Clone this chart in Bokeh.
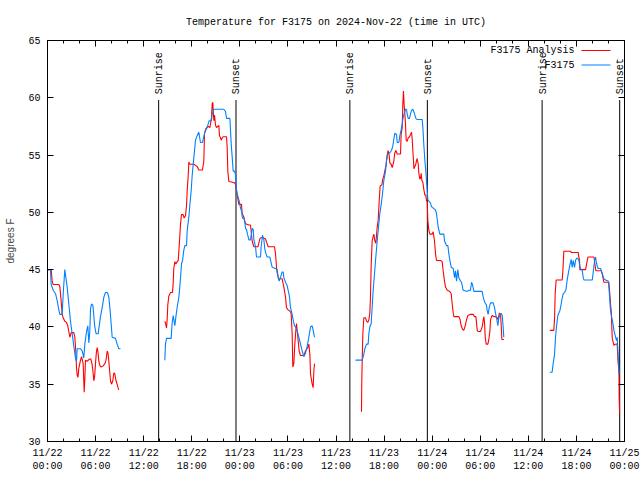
import math
from bokeh.plotting import figure
from bokeh.models import (LinearAxis, FixedTicker, Range1d, Label, Arrow,
                          CustomJSTickFormatter)
from bokeh.core.properties import value
from bokeh.embed import file_html
from bokeh.resources import INLINE

TITLE = "Temperature for F3175 on 2024-Nov-22 (time in UTC)"
Y_LABEL = "degrees F"

# x = hours since 2024-11-22 00:00 UTC
tick_hours = [0, 6, 12, 18, 24, 30, 36, 42, 48, 54, 60, 66, 72]
tick_labels = ["11/22\n00:00", "11/22\n06:00", "11/22\n12:00", "11/22\n18:00",
               "11/23\n00:00", "11/23\n06:00", "11/23\n12:00", "11/23\n18:00",
               "11/24\n00:00", "11/24\n06:00", "11/24\n12:00", "11/24\n18:00",
               "11/25\n00:00"]
y_ticks = [30, 35, 40, 45, 50, 55, 60, 65]

sunrise_hours = [13.87, 37.73, 61.72]
sunset_hours = [23.52, 47.40, 71.40]

# ---- F3175 observations ----
obs1_h = [0, 0.37, 0.46, 0.71, 1.0, 1.21, 1.41, 1.54, 1.83, 1.96, 2.16, 2.45, 2.66, 2.87, 3.08,
          3.29, 3.49, 3.62, 3.7, 4.12, 4.33, 4.53, 4.66, 4.87, 5.03, 5.16, 5.28, 5.37, 5.49,
          5.66, 5.78, 5.9, 6.07, 6.32, 6.61, 6.85, 7.03, 7.24, 7.49, 7.65, 7.78, 7.92, 8.07,
          8.49, 8.69, 8.9, 9.11]
obs1_t = [45, 45, 43.7, 43.2, 42.9, 42.3, 41.5, 41.1, 41.1, 42.9, 45, 43.5, 42, 40.5, 39.4,
          38.3, 37.3, 37.0, 38.1, 38.1, 37.9, 37.3, 38.5, 39.6, 40.1, 38.6, 39.6, 41.6, 42.0,
          41.9, 41.0, 40.0, 39.4, 39.4, 40.9, 41.8, 42.6, 43.0, 43.0, 42.6, 41.7, 40.5, 39.1,
          39.0, 38.5, 38.1, 38.1]

obs2_h = [14.64, 14.72, 14.85, 15.43, 15.55, 15.68, 15.89, 16.02, 16.18, 16.39, 16.51, 16.6,
          16.72, 16.85, 17.01, 17.14, 17.35, 17.43, 17.64, 17.76, 17.93, 18.05, 18.26, 18.47,
          18.68, 18.88, 18.97, 19.09, 19.34, 19.51, 19.63, 19.84, 20.05, 20.17, 20.46, 20.55,
          20.76, 22.0, 22.21, 22.34, 22.76, 22.84, 22.92, 23.05, 23.17, 23.33, 23.46, 23.58,
          23.67, 23.79, 23.92, 24.08, 24.21, 24.33, 24.5, 24.63, 24.71, 24.83, 24.96, 25.13,
          25.33, 25.54, 25.67, 25.75, 25.96, 26.08, 26.58, 26.66, 26.83, 27.0, 27.12, 27.25,
          27.41, 27.75, 27.91, 28.04, 28.45, 28.66, 28.78, 28.91, 29.07, 29.28, 29.41, 29.49,
          29.7, 29.91, 30.03, 30.2, 30.32, 30.53, 30.66, 30.82, 30.95, 31.15, 31.36, 31.57,
          31.78, 31.99, 32.19, 32.4, 32.61, 32.82, 33.03, 33.15, 33.32]
obs2_t = [37.1, 38.5, 39.0, 39.0, 40.3, 41.0, 40.1, 40.9, 41.7, 42.6, 43.5, 44.3,
          45.5, 45.8, 46.7, 47.1, 47.1, 48.4, 49.6, 50.6, 51.9, 53.2, 54.8, 56.3,
          56.7, 57.0, 56.6, 56.1, 56.1, 56.6, 57.0, 57.3, 57.7, 58.0, 58.0, 58.6,
          59.0, 59.0, 58.8, 58.2, 58.2, 57.1, 56.0, 54.8, 53.6, 53.6, 53.3, 52.0,
          51.6, 51.3, 51.0, 50.4, 50.1, 49.5, 49.5, 49.1, 48.6, 48.5, 48.1, 47.6,
          47.6, 48.6, 48.5, 47.6, 47.0, 46.1, 46.1, 47.0, 48.0, 47.6, 46.8, 46.4,
          46.1, 46.1, 45.6, 45.2, 45.1, 45.0, 44.3, 44.0, 44.3, 44.8, 44.8, 44.3,
          43.9, 43.6, 43.2, 42.6, 41.7, 41.1, 40.6, 40.1, 40.0, 39.7, 39.1, 38.5,
          37.9, 37.4, 37.7, 38.3, 39.1, 40.0, 40.1, 39.7, 39.1]

obs3_h = [38.43, 39.27, 39.47, 39.6, 39.81, 40.01, 40.1, 40.22, 40.39, 40.51, 40.64, 40.8,
          40.97, 41.14, 41.3, 41.47, 41.64, 41.8, 41.97, 42.18, 42.3, 42.47, 42.72, 42.93,
          43.09, 43.22, 43.34, 43.55, 43.64, 43.84, 43.97, 44.13, 44.26, 44.38, 44.55, 44.67,
          44.8, 44.88, 45.01, 45.17, 45.3, 45.42, 45.59, 45.8, 45.96, 46.13, 46.76, 46.84,
          46.96, 47.09, 47.21, 47.29, 47.38, 47.46, 47.79, 47.92, 48.42, 48.54, 48.63, 48.75,
          48.96, 49.46, 49.54, 49.79, 49.96, 50.08, 50.21, 50.38, 50.63, 50.79, 50.91, 51.04,
          51.2, 51.33, 51.54, 51.66, 51.87, 52.37, 52.58, 52.78, 52.91, 53.03, 53.2, 54.24,
          54.37, 54.53, 54.78, 54.87, 54.99, 55.12, 55.28, 55.61, 55.78, 55.9, 56.03, 56.2,
          56.32, 56.44, 56.61, 56.74, 56.86, 56.94]
obs3_t = [37.1, 37.1, 37.6, 38.1, 38.5, 38.5, 39.4, 40.0, 40.3, 41.7, 43.2, 44.6,
          46.1, 47.5, 48.7, 49.9, 50.7, 51.6, 52.8, 53.6, 54.5, 55.1, 55.2, 55.4,
          55.8, 56.4, 56.9, 56.8, 56.1, 56.1, 56.7, 57.2, 57.7, 58.3, 58.7, 59.0,
          59.0, 58.6, 58.2, 58.2, 58.6, 58.9, 59.0, 58.6, 58.2, 58.1, 58.1, 57.4,
          55.9, 54.5, 53.6, 52.8, 51.9, 51.1, 50.8, 50.5, 50.2, 49.9, 49.4, 48.7,
          48.1, 48.1, 47.5, 47.1, 47.1, 46.4, 45.8, 45.2, 45.1, 44.3, 44.9, 44.0,
          45.0, 44.3, 44.0, 43.9, 43.2, 43.1, 43.2, 43.2, 43.9, 43.7, 43.1, 43.1,
          42.6, 42.2, 41.9, 41.4, 41.1, 41.7, 42.1, 42.1, 41.7, 41.2, 40.8, 40.1,
          40.8, 41.0, 41.2, 41.0, 40.0, 39.1]

obs4_h = [62.68, 62.97, 63.1, 63.27, 63.39, 63.51, 63.68, 63.93, 64.1, 64.22, 64.35, 64.51,
          64.68, 64.85, 65.02, 65.18, 65.35, 65.47, 65.6, 65.77, 65.89, 66.02, 66.18, 66.31,
          66.43, 66.52, 66.73, 66.85, 66.94, 67.98, 68.1, 68.27, 68.39, 68.47, 68.6, 68.72,
          69.01, 69.22, 69.43, 69.64, 69.97, 70.05, 70.14, 70.26, 70.39, 70.56, 70.68, 70.89,
          71.01, 71.09, 71.22, 71.31]
obs4_t = [36.05, 36.05, 36.8, 37.6, 39.1, 40.0, 41.0, 41.4, 42.0, 42.5, 42.9, 43.0,
          43.2, 44.1, 44.8, 45.4, 45.9, 45.2, 45.8, 45.2, 45.8, 46.0, 46.0, 45.8,
          45.3, 45.1, 44.9, 44.3, 44.1, 44.1, 44.8, 45.8, 46.1, 45.7, 45.3, 45.1,
          45.1, 44.7, 44.2, 44.1, 44.0, 43.5, 42.6, 41.4, 40.9, 40.3, 39.7, 39.1,
          38.8, 39.1, 37.4, 35.9]

# ---- F3175 Analysis ----
ana1_h = [0, 0.46, 0.58, 0.71, 1.41, 1.54, 1.7, 1.83, 1.96, 2.16, 2.37, 2.53, 2.66, 2.79,
          2.95, 3.29, 3.41, 3.53, 3.62, 3.7, 3.8, 3.91, 4.12, 4.25, 4.45, 4.58, 4.66, 4.74,
          4.95, 5.24, 5.4, 5.55, 5.66, 5.78, 5.87, 5.99, 6.1, 6.2, 6.3, 6.41, 6.55, 6.7, 6.95,
          7.16, 7.3, 7.45, 7.55, 7.65, 7.75, 7.86, 7.99, 8.15, 8.28, 8.4, 8.55, 8.69, 8.8, 8.9]
ana1_t = [45, 45, 44, 43.7, 43.7, 43.5, 42.3, 41.1, 40.8, 40.5, 40.4, 40.1, 39.6, 39.1,
          39.5, 39.5, 39.1, 37.9, 36.4, 35.8, 35.6, 36.4, 37.1, 37.4, 36.8, 34.3, 35.5, 37.1,
          37.0, 37.2, 37.2, 36.8, 36.2, 35.3, 35.6, 36.8, 37.8, 38.2, 37.8, 37.0, 36.6, 36.5, 36.6,
          36.8, 37.1, 37.9, 37.7, 37.0, 36.2, 35.3, 35.0, 35.3, 36.0, 35.9, 35.3, 35.0, 34.7, 34.5]

ana2_h = [14.64, 14.77, 14.85, 14.93, 15.01, 15.14, 15.35, 15.6, 15.68, 15.76, 15.89, 16.02,
          16.18, 16.31, 16.43, 16.6, 16.72, 16.93, 17.05, 17.22, 17.35, 17.43, 17.55, 17.64,
          17.76, 18.26, 18.47, 18.68, 18.88, 19.34, 19.51, 19.59, 19.76, 19.92, 20.09, 20.26,
          20.34, 20.46, 20.55, 20.63, 20.67, 20.76, 20.84, 20.97, 21.09, 21.38, 21.46, 21.59,
          21.67, 21.8, 21.92, 22.34, 22.42, 22.5, 22.63, 23.25, 23.46, 23.58, 23.75, 23.88,
          24.21, 24.29, 24.5, 24.71, 25.13, 25.33, 25.54, 25.75, 26.25, 26.37, 26.5, 26.66,
          27.2, 27.33, 27.54, 28.33, 28.45, 28.58, 28.66, 28.87, 29.28, 29.49, 29.7, 29.82,
          29.99, 30.24, 30.4, 30.53, 30.61, 30.74, 30.86, 30.99, 31.07, 31.24, 31.4, 31.57,
          31.99, 32.19, 32.48, 32.61, 32.74, 32.82, 33.03, 33.15, 33.24, 33.32]
ana2_t = [40.5, 40.2, 39.9, 40.6, 41.9, 42.7, 43.0, 43.0, 43.8, 45.1, 45.7, 45.5,
          45.7, 45.8, 47.0, 49.0, 49.8, 49.8, 49.5, 49.7, 50.6, 51.9, 53.1, 54.4,
          54.2, 54.2, 54.1, 54.0, 53.7, 53.7, 54.5, 56.9, 57.3, 57.4, 57.5, 57.4,
          57.7, 58.3, 59.5, 59.6, 58.9, 58.0, 58.5, 57.6, 57.4, 57.6, 56.7, 56.5,
          56.3, 56.5, 56.6, 56.6, 55.7, 53.6, 52.7, 52.6, 52.5, 51.9, 51.2, 50.7,
          50.7, 49.9, 49.6, 49.0, 48.9, 48.9, 47.5, 47.0, 47.0, 47.3, 47.7, 47.8,
          47.7, 47.4, 47.0, 47.0, 46.4, 45.2, 44.7, 44.2, 44.2, 43.5, 42.6, 41.7,
          41.5, 41.4, 41.2, 39.4, 36.5, 36.8, 38.5, 39.7, 40.3, 39.1, 37.9, 37.5,
          37.5, 37.9, 38.2, 38.5, 37.6, 35.9, 35.0, 34.7, 36.2, 36.8]

ana3_h = [39.18, 39.22, 39.27, 39.35, 39.47, 39.68, 39.81, 39.97, 40.1, 40.22, 40.3, 40.39,
          40.51, 40.6, 40.72, 40.85, 40.97, 41.14, 41.26, 41.39, 41.51, 41.72, 41.84, 41.97,
          42.09, 42.26, 42.38, 42.51, 42.63, 42.72, 42.88, 43.01, 43.13, 43.22, 43.34, 43.47,
          43.64, 43.84, 44.05, 44.13, 44.26, 44.34, 44.42, 44.51, 44.59, 44.67, 44.76, 44.88,
          45.01, 45.17, 45.3, 45.42, 45.51, 45.59, 45.67, 45.72, 45.84, 45.96, 46.04, 46.13,
          46.26, 46.34, 46.46, 46.55, 46.63, 46.71, 46.84, 46.96, 47.09, 47.21, 47.29, 47.38,
          47.46, 47.59, 47.71, 48.0, 48.13, 48.29, 48.42, 48.54, 49.04, 49.25, 49.37, 49.54,
          49.66, 49.88, 50.21, 50.38, 50.5, 50.63, 50.71, 51.33, 51.46, 51.62, 51.79, 51.95,
          52.12, 52.28, 52.45, 52.78, 53.12, 53.29, 53.45, 53.53, 53.62, 53.74, 54.03, 54.24,
          54.37, 54.45, 54.53, 54.62, 54.74, 54.95, 55.07, 55.2, 55.28, 55.41, 55.49, 55.7,
          55.91, 56.12, 56.24, 56.37, 56.53, 56.62, 56.7, 56.95]
ana3_t = [32.6, 35.3, 37.1, 39.4, 40.8, 40.8, 40.5, 40.4, 40.6, 41.2, 42.6, 45.4,
          47.5, 47.8, 48.1, 47.5, 47.3, 48.7, 49.3, 51.0, 52.3, 52.4, 52.9, 53.2,
          53.6, 54.2, 55.0, 55.4, 55.0, 54.3, 54.2, 53.9, 54.2, 54.5, 55.2, 55.4,
          55.1, 55.1, 55.1, 56.8, 57.4, 59.5, 60.6, 59.3, 58.6, 57.7, 56.3, 56.2,
          56.5, 56.6, 56.8, 57.0, 56.4, 55.4, 54.5, 53.8, 54.0, 54.2, 54.5, 54.7,
          54.2, 53.4, 52.9, 53.0, 53.4, 52.8, 52.6, 52.0, 51.5, 51.5, 51.0, 51.0,
          49.3, 48.4, 48.1, 48.1, 48.3, 47.5, 46.4, 45.8, 45.8, 45.7, 44.9, 44.0,
          43.5, 43.2, 43.1, 42.9, 42.0, 41.2, 40.9, 40.9, 40.7, 40.1, 39.8, 39.7,
          40.1, 40.6, 41.0, 41.1, 41.1, 40.9, 40.9, 40.4, 39.7, 39.6, 39.6, 40.0,
          40.6, 40.9, 40.4, 39.1, 38.5, 38.5, 38.9, 39.6, 40.6, 40.9, 41.0, 40.9,
          40.9, 40.8, 40.6, 41.2, 41.1, 40.1, 38.9, 38.9]

ana4_h = [62.68, 63.18, 63.27, 63.35, 63.47, 64.22, 64.3, 64.43, 65.27, 65.35, 66.22, 66.31,
          66.39, 66.43, 67.15, 67.27, 67.44, 68.19, 68.3, 68.43, 69.1, 69.22, 69.43, 70.05,
          70.14, 70.26, 70.35, 70.47, 70.68, 70.89, 71.09, 71.18, 71.31, 71.33, 71.39]
ana4_t = [39.7, 39.7, 40.7, 42.9, 44.1, 44.1, 44.8, 46.6, 46.6, 46.5, 46.5, 46.1,
          45.8, 45.0, 45.0, 45.5, 46.1, 46.1, 45.5, 44.9, 44.9, 44.6, 43.9, 43.9,
          43.1, 42.0, 41.3, 39.0, 38.4, 38.5, 38.5, 37.1, 36.05, 33.9, 32.4]

SERIES_OBS = "F3175"
SERIES_ANA = "F3175 Analysis"
COLOR_OBS = "#0080ff"
COLOR_ANA = "#ff0000"
FONT = "Liberation Mono"

p = figure(width=640, height=480, output_backend="svg", toolbar_location=None,
           x_range=Range1d(0, 72), y_range=Range1d(30, 65),
           x_axis_type=None, y_axis_type=None,
           min_border_left=47, min_border_right=16, min_border_top=40, min_border_bottom=39)
p.background_fill_color = "white"
p.border_fill_color = "white"
p.outline_line_color = "black"
p.outline_line_width = 1
p.xgrid.visible = False
p.ygrid.visible = False

p.title.text = TITLE
p.title.align = "center"
p.title.text_font = FONT
p.title.text_font_size = "10px"
p.title.text_font_style = "normal"
p.title.text_color = "black"
p.title.standoff = 25

minor_x = [h for h in range(0, 73, 2)]

def style_axis(ax, show_labels):
    ax.major_tick_in = 6
    ax.major_tick_out = 0
    ax.minor_tick_in = 3
    ax.minor_tick_out = 0
    ax.axis_line_color = "black"
    ax.major_tick_line_color = "black"
    ax.minor_tick_line_color = "black"
    ax.major_label_text_font = FONT
    ax.major_label_text_font_size = "10px"
    ax.major_label_text_color = "black"
    if not show_labels:
        ax.formatter = CustomJSTickFormatter(code="return ''")
        ax.major_label_standoff = 0

xb = LinearAxis(ticker=FixedTicker(ticks=tick_hours, minor_ticks=minor_x))
style_axis(xb, True)
xb.major_label_overrides = {t: l for t, l in zip(tick_hours, tick_labels)}
xb.major_label_standoff = 6
p.add_layout(xb, "below")

xt = LinearAxis(ticker=FixedTicker(ticks=tick_hours, minor_ticks=minor_x))
style_axis(xt, False)
p.add_layout(xt, "above")

yl = LinearAxis(ticker=FixedTicker(ticks=y_ticks, minor_ticks=[]))
style_axis(yl, True)
yl.major_label_standoff = 7
yl.axis_label = Y_LABEL
yl.axis_label_text_font = "Liberation Sans"
yl.axis_label_text_font_size = "10px"
yl.axis_label_text_font_style = "normal"
yl.axis_label_standoff = 9
p.add_layout(yl, "left")

yr = LinearAxis(ticker=FixedTicker(ticks=y_ticks, minor_ticks=[]))
style_axis(yr, False)
p.add_layout(yr, "right")

# sunrise / sunset markers
sun_x = sunrise_hours + sunset_hours
sun_text = ["Sunrise"] * len(sunrise_hours) + ["Sunset"] * len(sunset_hours)
line_top = 59.8
p.segment(x0=sun_x, y0=[30] * len(sun_x), x1=sun_x, y1=[line_top] * len(sun_x),
          line_color="black", line_width=1)
p.text(x=sun_x, y=[60.3] * len(sun_x), text=sun_text, angle=math.pi / 2,
       text_align="left", text_baseline="middle", x_offset=1,
       text_font=value(FONT), text_font_size="10px", text_color="black")

# data series
p.multi_line(xs=[ana1_h, ana2_h, ana3_h, ana4_h], ys=[ana1_t, ana2_t, ana3_t, ana4_t],
             line_color=COLOR_ANA, line_width=1.1)
p.multi_line(xs=[obs1_h, obs2_h, obs3_h, obs4_h], ys=[obs1_t, obs2_t, obs3_t, obs4_t],
             line_color=COLOR_OBS, line_width=1.1)

# key (gnuplot style: text, then sample line); screen units are relative to the frame
for i, (name, col) in enumerate([(SERIES_ANA, COLOR_ANA), (SERIES_OBS, COLOR_OBS)]):
    ys = 391 - 14.5 * i
    p.add_layout(Label(x=527, y=ys, x_units="screen", y_units="screen", text=name,
                       text_align="right", text_baseline="middle",
                       text_font=FONT, text_font_size="10px", text_color="black"))
    p.add_layout(Arrow(x_start=534, y_start=ys, x_end=563, y_end=ys,
                       start_units="screen", end_units="screen", end=None,
                       line_color=col, line_width=1.1))

open("out.html", "w").write(file_html(p, INLINE))
